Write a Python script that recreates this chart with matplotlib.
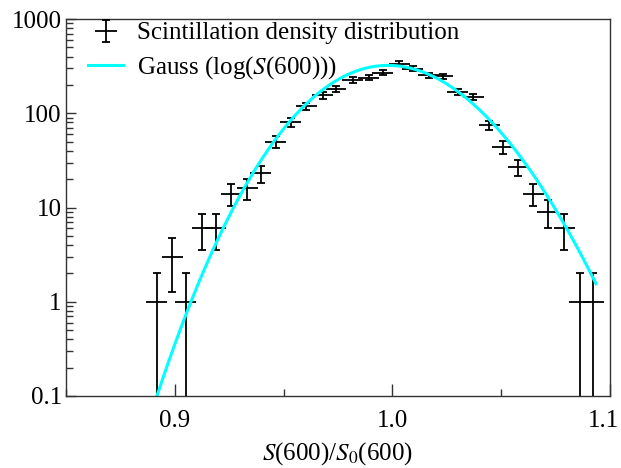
import numpy as np
import matplotlib
matplotlib.use('Agg')
import matplotlib.pyplot as plt
from matplotlib.lines import Line2D
from matplotlib.path import Path
from matplotlib.transforms import ScaledTranslation
from matplotlib.ticker import FixedLocator, LogLocator, NullFormatter, FixedFormatter

plt.rcParams['font.family'] = ['Liberation Serif', 'DejaVu Serif']
plt.rcParams['mathtext.fontset'] = 'stix'

# bin centres of S(600)/S0(600) and entries per bin
ratio = np.array([0.8916, 0.8989, 0.9050, 0.9127, 0.9188, 0.9260, 0.9333, 0.9394,
                  0.9463, 0.9532, 0.9604, 0.9680, 0.9741, 0.9818, 0.9891, 0.9956,
                  1.0032, 1.0093, 1.0167, 1.0231, 1.0300, 1.0372, 1.0445, 1.0506,
                  1.0579, 1.0647, 1.0713, 1.0789, 1.0861, 1.0923])
counts = np.array([1, 3, 1, 6, 6, 14, 16, 23,
                   50, 80, 118, 155, 182, 227, 239, 270,
                   336, 297, 252, 246, 168, 149, 75, 44,
                   27, 14, 9, 6, 1, 1])
bin_halfwidth = 0.0048

# Gauss in log(S) fit, parameters
gauss_amp = 322.0
gauss_mu = -0.002      # mean of ln(S/S0)
gauss_sigma = 0.0280   # width in ln(S/S0)
fit_lo, fit_hi = 0.885, 1.0936

xticks = [0.9, 1.0, 1.1]
xticklabels = ['0.9', '1.0', '1.1']
yticks = [0.1, 1, 10, 100, 1000]
yticklabels = ['0.1', '1', '10', '100', '1000']

W, H = 621, 468
FS = 18
fig = plt.figure(figsize=(W / 100, H / 100), dpi=100)
ax = fig.add_axes([66 / W, 1 - 396 / H, (610 - 66) / W, (396 - 19) / H])

lw = 1.3
ax.errorbar(ratio, counts, xerr=bin_halfwidth, fmt='none', ecolor='black',
            elinewidth=lw)
ax.errorbar(ratio, counts, yerr=np.sqrt(counts), fmt='none', ecolor='black',
            elinewidth=lw, capsize=3, capthick=lw)

xs = np.linspace(fit_lo, fit_hi, 400)
gauss = gauss_amp * np.exp(-(np.log(xs) - gauss_mu) ** 2 / (2 * gauss_sigma ** 2))
ax.plot(xs, gauss, color='#00ffff', lw=2.2)

ax.set_yscale('log')
ax.set_xlim(0.85, 1.1)
ax.set_ylim(0.1, 1000)

ax.xaxis.set_major_locator(FixedLocator(xticks))
ax.xaxis.set_major_formatter(FixedFormatter(xticklabels))
ax.xaxis.set_minor_locator(FixedLocator([0.85, 0.95, 1.05]))
ax.yaxis.set_major_locator(FixedLocator(yticks))
ax.yaxis.set_major_formatter(FixedFormatter(yticklabels))
ax.yaxis.set_minor_locator(LogLocator(base=10, subs=np.arange(2, 10)))
ax.yaxis.set_minor_formatter(NullFormatter())

ax.tick_params(which='both', direction='in', top=False, right=False,
               labelsize=FS, width=1.0, color='#333333')
ax.tick_params(axis='x', which='major', length=8.5, pad=10)
ax.tick_params(axis='x', which='minor', length=5)
ax.tick_params(axis='y', which='major', length=7, pad=3)
ax.tick_params(axis='y', which='minor', length=5)
for s in ax.spines.values():
    s.set_linewidth(1.0)
    s.set_color('#333333')

ax.set_xlabel('$S$(600)/$S_0$(600)', fontsize=FS, labelpad=6)

# legend marker: cross with capped vertical bar
cross = Path([(0, -1), (0, 1), (-1, 0), (1, 0),
              (-0.35, 1), (0.35, 1), (-0.35, -1), (0.35, -1)],
             [Path.MOVETO, Path.LINETO] * 4)
h_data = Line2D([], [], ls='none', marker=cross, ms=16, mfc='none',
                mec='black', mew=lw)
h_fit = Line2D([], [], color='#00ffff', lw=2.2)
ax.legend([h_data, h_fit],
          ['Scintillation density distribution', 'Gauss (log($S$(600)))'],
          loc='upper left', bbox_to_anchor=((88 - 66) / 544, 1 - 3 / 377),
          frameon=False, fontsize=FS, borderpad=0, borderaxespad=0,
          handlelength=1.4, handletextpad=0.55, labelspacing=0.4)

# nudge the last x label inside the canvas
fig.canvas.draw()
last = ax.xaxis.get_major_ticks()[-1].label1
last.set_transform(last.get_transform() + ScaledTranslation(-7 / 100, 0, fig.dpi_scale_trans))

fig.savefig('out.png', dpi=100)
